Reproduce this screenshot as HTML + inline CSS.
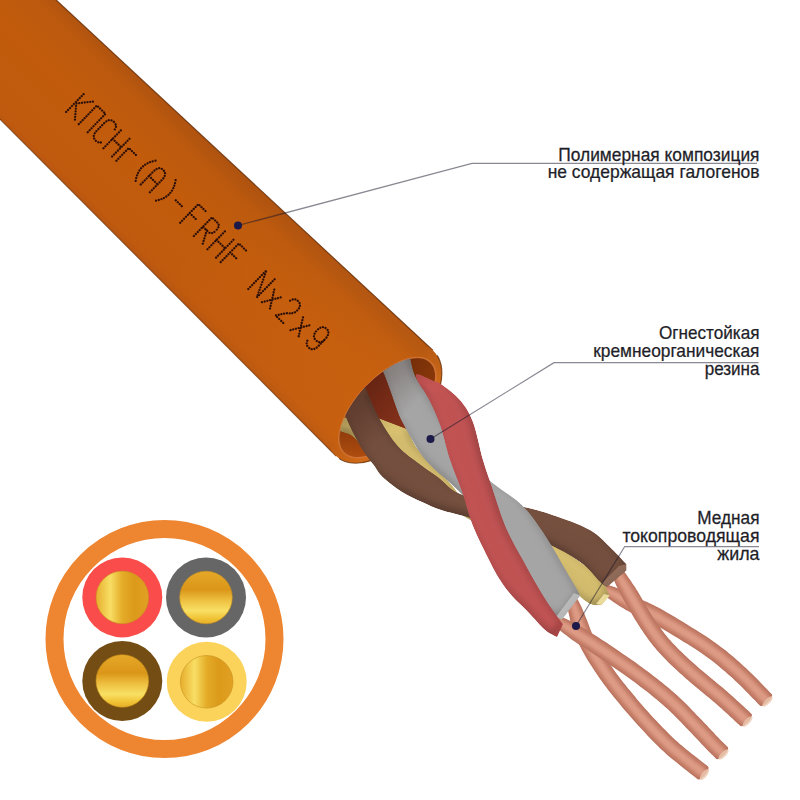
<!DOCTYPE html>
<html><head><meta charset="utf-8"><style>
html,body{margin:0;padding:0;background:#fff;width:800px;height:800px;overflow:hidden}
svg{display:block}
</style></head><body>
<svg width="800" height="800" viewBox="0 0 800 800">
<defs>
<linearGradient id="body" gradientUnits="userSpaceOnUse" x1="120" y1="238.75" x2="213" y2="143.9">
  <stop offset="0" stop-color="#b85610"/>
  <stop offset="0.06" stop-color="#c05a0e"/>
  <stop offset="0.55" stop-color="#c25c0c"/>
  <stop offset="0.85" stop-color="#bb590e"/>
  <stop offset="1" stop-color="#ad5210"/>
</linearGradient>
<linearGradient id="bodyEnd" gradientUnits="userSpaceOnUse" x1="220" y1="210" x2="390" y2="370">
  <stop offset="0" stop-color="#e07418" stop-opacity="0"/>
  <stop offset="1" stop-color="#e07418" stop-opacity="0.2"/>
</linearGradient>
<linearGradient id="rim" gradientUnits="userSpaceOnUse" x1="354.8" y1="375" x2="420" y2="437">
  <stop offset="0" stop-color="#c8620f"/>
  <stop offset="0.45" stop-color="#cc6614"/>
  <stop offset="1" stop-color="#dc782c"/>
</linearGradient>
<linearGradient id="rimHi" gradientUnits="userSpaceOnUse" x1="354.8" y1="375" x2="420" y2="437">
  <stop offset="0.35" stop-color="#e8842e" stop-opacity="0"/>
  <stop offset="1" stop-color="#e8842e" stop-opacity="0.55"/>
</linearGradient>
<linearGradient id="holeSh" gradientUnits="userSpaceOnUse" x1="365" y1="387" x2="400" y2="420">
  <stop offset="0" stop-color="#200800" stop-opacity="0.28"/>
  <stop offset="1" stop-color="#200800" stop-opacity="0"/>
</linearGradient>
<clipPath id="front">
  <path d="M731.4,45.1 L43.4,770.1 L768,1458 L1456,733Z"/>
</clipPath>
<clipPath id="wclip">
  <ellipse cx="387.4" cy="407.6" rx="62.6" ry="30.2" transform="rotate(133.5 387.4 407.6)"/>
  <path d="M731.4,45.1 L43.4,770.1 L768,1458 L1456,733Z"/>
</clipPath>
<linearGradient id="cav" gradientUnits="userSpaceOnUse" x1="430" y1="360" x2="345" y2="452">
  <stop offset="0" stop-color="#8e3a0a"/>
  <stop offset="0.4" stop-color="#7e3008"/>
  <stop offset="0.72" stop-color="#983c0c"/>
  <stop offset="1" stop-color="#b85210"/>
</linearGradient>
<filter id="tube" x="-10%" y="-10%" width="120%" height="120%">
  <feGaussianBlur in="SourceAlpha" stdDeviation="4" result="b"/>
  <feComposite in="SourceAlpha" in2="b" operator="arithmetic" k2="1" k3="-1" result="edge"/>
  <feFlood flood-color="#000" flood-opacity="0.42"/>
  <feComposite in2="edge" operator="in" result="sh"/>
  <feMerge><feMergeNode in="SourceGraphic"/><feMergeNode in="sh"/></feMerge>
</filter>
<filter id="tube3d" x="-10%" y="-10%" width="120%" height="120%" color-interpolation-filters="sRGB">
  <feGaussianBlur in="SourceAlpha" stdDeviation="5" result="blur"/>
  <feDiffuseLighting in="blur" surfaceScale="2.5" diffuseConstant="1.08" lighting-color="#ffffff" result="light">
    <feDistantLight azimuth="235" elevation="65"/>
  </feDiffuseLighting>
  <feComposite in="SourceGraphic" in2="light" operator="arithmetic" k1="1" k2="0" k3="0" k4="0" result="lit"/>
  <feComposite in="lit" in2="SourceAlpha" operator="in"/>
</filter>
<filter id="soft" x="-20%" y="-20%" width="140%" height="140%"><feGaussianBlur stdDeviation="1.6"/></filter>
<filter id="tubeS" x="-10%" y="-10%" width="120%" height="120%">
  <feGaussianBlur in="SourceAlpha" stdDeviation="2.2" result="b"/>
  <feComposite in="SourceAlpha" in2="b" operator="arithmetic" k2="1" k3="-1" result="edge"/>
  <feFlood flood-color="#6a3020" flood-opacity="0.5"/>
  <feComposite in2="edge" operator="in" result="sh"/>
  <feMerge><feMergeNode in="SourceGraphic"/><feMergeNode in="sh"/></feMerge>
</filter>

<linearGradient id="goldH" x1="0" y1="0" x2="1" y2="0">
  <stop offset="0" stop-color="#e6ae2c"/>
  <stop offset="0.27" stop-color="#f8de64"/>
  <stop offset="0.5" stop-color="#e4ac28"/>
  <stop offset="0.72" stop-color="#dc9a1a"/>
  <stop offset="1" stop-color="#e2a024"/>
</linearGradient>
<linearGradient id="goldV" x1="0" y1="0" x2="0" y2="1">
  <stop offset="0" stop-color="#e6a828"/>
  <stop offset="0.35" stop-color="#da9618"/>
  <stop offset="0.55" stop-color="#eebf40"/>
  <stop offset="0.75" stop-color="#f8e064"/>
  <stop offset="0.9" stop-color="#f0c234"/>
  <stop offset="1" stop-color="#e6ae2a"/>
</linearGradient>
</defs>
<rect width="800" height="800" fill="#ffffff"/>
<path d="M-200.0,-238.2 L433.0,350.5 L384.5,403.3 L336.0,456.0 L-200.0,-81.2Z" fill="url(#body)"/>
<path d="M-200.0,-238.2 L433.0,350.5 L384.5,403.3 L336.0,456.0 L-200.0,-81.2Z" fill="url(#bodyEnd)"/>
<path d="M-200,-238.2 L433,350.5" stroke="#6a3008" stroke-width="1.2" opacity="0.85"/>
<path d="M-200,-81.2 L336,456" stroke="#6a3008" stroke-width="1.1" opacity="0.7"/>
<path d="M432.87,350.51 A71.6,41.1 132.5 1 0 336.13,456.09 A71.6,41.1 132.5 1 0 432.87,350.51Z" fill="url(#body)"/>
<path d="M432.87,350.51 A71.6,41.1 132.5 1 0 336.13,456.09 A71.6,41.1 132.5 1 0 432.87,350.51Z" fill="url(#bodyEnd)"/>
<path d="M432.87,350.51 A71.6,41.1 132.5 1 0 336.13,456.09 A71.6,41.1 132.5 1 0 432.87,350.51Z" fill="url(#rimHi)"/>
<path d="M432.87,350.51 A71.6,41.1 132.5 1 0 336.13,456.09 A71.6,41.1 132.5 1 0 432.87,350.51Z" fill="none" stroke="#6a3008" stroke-width="1.2" opacity="0.8" clip-path="url(#front)"/>
<path d="M430.49,362.19 A62.6,30.2 133.5 1 0 344.31,453.01 A62.6,30.2 133.5 1 0 430.49,362.19Z" fill="url(#cav)" stroke="#d27434" stroke-width="1.6"/>
<path d="M356,384 L372,372 L396,362 L412,434 L379,419 L366,404Z" fill="#82301a" clip-path="url(#wclip)"/>
<path d="M66.2,111.9 L84.4,93.3 M93.0,101.6 L76.2,103.4 L74.9,120.3 M78.8,124.1 L96.9,105.5 L105.5,113.8 L87.4,132.5 M 114.8,129.4 Q 117.6,125.6 113.8,121.8 Q 109.5,117.7 104.0,123.3 L 96.8,130.7 Q 91.3,136.3 95.6,140.5 Q 99.5,144.2 103.2,141.3 M103.5,148.2 L121.7,129.5 M112.1,156.5 L130.3,137.9 M112.6,138.8 L121.2,147.2 M116.4,160.7 L128.8,148.0 L136.1,155.1 M 155.5,160.7 Q 138.3,163.8 135.6,181.2 M 140.8,184.4 L 153.5,171.4 Q 158.9,165.8 163.2,169.9 Q 167.5,174.1 162.1,179.7 L 149.4,192.8 M 149.0,176.0 L 157.6,184.4 M 175.6,180.2 Q 173.0,197.5 155.7,200.7 M175.8,200.3 L182.7,207.0 M180.2,222.7 L198.4,204.1 L207.0,212.5 M189.7,213.1 L196.5,219.7 M 193.9,236.0 L 212.0,217.4 L 217.6,222.8 Q 220.6,225.7 216.1,230.4 Q 211.5,235.0 208.5,232.1 L 202.9,226.7 M 206.8,230.4 L 202.5,244.4 M207.5,249.2 L225.6,230.6 M216.1,257.6 L234.2,239.0 M216.5,239.9 L225.1,248.3 M220.7,262.1 L238.9,243.5 L247.5,251.9 M230.2,252.4 L237.1,259.1 M248.3,289.0 L266.5,270.3 L256.9,297.3 L275.1,278.7 M262.0,302.2 L282.0,297.1 M274.3,289.6 L269.7,309.8 M 290.1,300.6 Q 294.6,297.7 298.0,301.0 Q 302.3,305.2 297.2,310.4 Q 293.3,314.5 286.2,313.1 L 275.6,315.5 L 284.2,323.8 M290.6,330.1 L310.7,325.0 M303.0,317.4 L298.4,337.6 M 324.1,340.2 Q 320.1,344.3 315.8,340.1 Q 311.5,335.9 317.0,330.3 Q 322.4,324.7 326.7,328.9 Q 331.0,333.1 324.6,339.6 L 318.3,346.1 Q 312.9,351.7 308.6,347.5 Q 305.1,344.2 307.9,339.6" fill="none" stroke="#2e0f08" stroke-width="2.3" stroke-linecap="round" stroke-dasharray="0.01 2.75"/>
<path d="M598.4,592.2 L598.9,592.5 L599.4,592.8 L600.0,593.1 L600.5,593.4 L601.1,593.7 L601.8,594.0 L602.5,594.5 L603.2,594.9 L604.1,595.5 L605.0,596.1 L606.1,596.8 L607.2,597.6 L608.5,598.5 L610.0,599.6 L611.7,600.7 L613.4,602.0 L615.3,603.3 L617.3,604.6 L619.4,605.9 L621.5,607.3 L623.7,608.6 L625.9,609.9 L628.0,611.1 L630.2,612.3 L632.3,613.4 L634.4,614.4 L636.4,615.3 L638.3,616.2 L640.2,617.1 L642.1,618.0 L644.0,618.9 L646.0,619.9 L648.2,621.0 L650.5,622.2 L653.1,623.6 L655.9,625.2 L659.1,627.0 L662.6,629.1 L666.4,631.3 L670.5,633.7 L674.6,636.2 L678.9,638.8 L683.1,641.4 L687.4,644.0 L691.4,646.6 L695.3,649.1 L699.0,651.5 L702.3,653.8 L705.4,655.9 L708.2,658.0 L711.0,660.0 L713.6,662.0 L716.1,664.0 L718.5,665.9 L720.8,667.9 L723.1,669.9 L725.4,671.8 L727.7,673.9 L730.1,676.0 L732.5,678.1 L734.9,680.4 L737.4,682.8 L740.1,685.3 L742.8,688.0 L745.4,690.7 L748.0,693.3 L750.5,695.9 L752.9,698.4 L755.1,700.6 L757.1,702.7 L758.8,704.4 L760.1,705.8 L761.3,706.1 L763.3,705.5 L765.6,704.1 L768.0,702.1 L770.1,699.7 L771.6,697.4 L772.2,695.4 L771.9,694.2 L770.6,692.9 L768.9,691.2 L767.0,689.2 L764.8,686.9 L762.4,684.4 L759.8,681.8 L757.2,679.1 L754.4,676.3 L751.6,673.6 L748.9,670.9 L746.2,668.3 L743.5,665.9 L741.1,663.7 L738.7,661.5 L736.3,659.4 L733.9,657.3 L731.4,655.3 L728.9,653.2 L726.4,651.1 L723.7,649.0 L720.9,646.9 L718.0,644.7 L714.9,642.5 L711.7,640.2 L708.2,637.8 L704.4,635.3 L700.3,632.7 L696.1,630.0 L691.8,627.4 L687.5,624.7 L683.2,622.1 L678.9,619.5 L674.9,617.1 L671.0,614.8 L667.4,612.7 L664.1,610.8 L661.1,609.1 L658.3,607.6 L655.7,606.3 L653.4,605.1 L651.1,604.0 L649.1,603.0 L647.1,602.1 L645.2,601.2 L643.4,600.4 L641.5,599.5 L639.7,598.6 L637.8,597.7 L635.7,596.6 L633.6,595.6 L631.4,594.5 L629.2,593.4 L626.9,592.3 L624.7,591.3 L622.5,590.3 L620.3,589.4 L618.3,588.5 L616.3,587.7 L614.5,587.0 L612.8,586.4 L611.2,585.9 L609.8,585.4 L608.5,585.1 L607.3,584.8 L606.2,584.5 L605.2,584.3 L604.4,584.2 L603.6,584.0 L602.9,584.0 L602.4,583.9 L602.0,583.8 L601.6,583.8Z" fill="#c8806a" filter="url(#tubeS)"/><path d="M599.3,589.9 L599.8,590.1 L600.3,590.3 L600.8,590.5 L601.4,590.8 L602.0,591.0 L602.7,591.4 L603.5,591.7 L604.3,592.1 L605.3,592.6 L606.3,593.1 L607.5,593.8 L608.7,594.5 L610.2,595.3 L611.8,596.3 L613.5,597.4 L615.3,598.5 L617.3,599.7 L619.3,600.9 L621.5,602.2 L623.6,603.5 L625.8,604.7 L628.0,606.0 L630.2,607.1 L632.3,608.3 L634.4,609.4 L636.4,610.3 L638.3,611.2 L640.2,612.1 L642.1,613.0 L644.0,613.9 L646.0,614.8 L648.1,615.8 L650.3,616.9 L652.7,618.2 L655.3,619.6 L658.2,621.2 L661.4,623.1 L664.9,625.2 L668.8,627.4 L672.8,629.8 L677.0,632.3 L681.3,634.9 L685.5,637.5 L689.8,640.2 L693.9,642.8 L697.8,645.3 L701.5,647.8 L704.9,650.1 L708.0,652.2 L710.9,654.4 L713.7,656.4 L716.4,658.4 L718.9,660.4 L721.3,662.4 L723.7,664.4 L726.1,666.4 L728.4,668.4 L730.7,670.5 L733.1,672.6 L735.5,674.8 L738.0,677.0 L740.6,679.5 L743.3,682.1 L746.0,684.8 L748.7,687.5 L751.3,690.2 L753.8,692.8 L756.2,695.2 L758.4,697.5 L760.3,699.5 L762.0,701.2 L763.4,702.6 L763.9,702.8 L764.8,702.5 L765.8,701.9 L766.9,700.9 L767.9,699.9 L768.5,698.8 L768.8,697.9 L768.6,697.4 L767.3,696.0 L765.7,694.3 L763.7,692.3 L761.5,690.1 L759.1,687.6 L756.6,685.0 L753.9,682.3 L751.2,679.5 L748.5,676.8 L745.7,674.1 L743.1,671.6 L740.5,669.2 L738.0,667.1 L735.7,664.9 L733.3,662.8 L730.9,660.8 L728.5,658.7 L726.0,656.7 L723.5,654.6 L720.9,652.6 L718.2,650.5 L715.3,648.4 L712.3,646.2 L709.1,643.9 L705.6,641.6 L701.9,639.1 L697.9,636.5 L693.7,633.9 L689.4,631.2 L685.1,628.6 L680.8,626.0 L676.6,623.4 L672.5,621.0 L668.7,618.8 L665.1,616.7 L661.8,614.8 L658.9,613.1 L656.2,611.6 L653.7,610.3 L651.3,609.2 L649.2,608.1 L647.1,607.1 L645.2,606.2 L643.3,605.4 L641.4,604.5 L639.6,603.6 L637.7,602.7 L635.7,601.7 L633.6,600.6 L631.5,599.5 L629.3,598.4 L627.1,597.2 L624.8,596.1 L622.7,595.0 L620.5,593.9 L618.4,592.8 L616.5,591.9 L614.6,591.0 L612.8,590.2 L611.3,589.5 L609.8,588.9 L608.5,588.4 L607.3,588.0 L606.2,587.6 L605.2,587.3 L604.3,587.0 L603.5,586.8 L602.8,586.6 L602.1,586.5 L601.6,586.4 L601.1,586.2 L600.7,586.1Z" fill="#e4a48e" opacity="0.75" filter="url(#soft)"/><ellipse cx="767.5" cy="701.5" rx="2.6" ry="6.8" transform="rotate(45.0 767.5 701.5)" fill="#ecc8b0" opacity="0.8"/>
<path d="M608.3,567.6 L608.5,568.0 L608.8,568.5 L609.0,568.9 L609.3,569.4 L609.5,569.9 L609.8,570.4 L610.1,571.1 L610.4,571.8 L610.8,572.7 L611.2,573.7 L611.7,574.8 L612.3,576.2 L612.9,577.7 L613.7,579.5 L614.5,581.4 L615.4,583.5 L616.4,585.7 L617.5,588.0 L618.6,590.4 L619.8,592.8 L621.0,595.2 L622.3,597.6 L623.6,599.9 L624.9,602.2 L626.2,604.4 L627.6,606.7 L629.0,609.1 L630.4,611.5 L631.8,613.9 L633.3,616.4 L634.7,618.9 L636.2,621.3 L637.7,623.7 L639.2,626.1 L640.7,628.4 L642.2,630.6 L643.6,632.7 L645.0,634.7 L646.3,636.6 L647.7,638.5 L649.1,640.4 L650.4,642.3 L651.9,644.1 L653.3,645.9 L654.9,647.8 L656.5,649.7 L658.1,651.6 L659.9,653.6 L661.8,655.6 L663.7,657.6 L665.7,659.6 L667.7,661.7 L669.8,663.7 L671.9,665.7 L674.1,667.8 L676.3,669.8 L678.6,671.9 L680.9,674.0 L683.2,676.1 L685.5,678.2 L688.0,680.3 L690.5,682.5 L693.2,684.8 L695.9,687.0 L698.6,689.3 L701.3,691.5 L704.0,693.7 L706.7,695.9 L709.3,698.1 L711.9,700.2 L714.3,702.2 L716.6,704.2 L718.8,706.2 L721.2,708.3 L723.5,710.4 L725.8,712.5 L728.1,714.6 L730.3,716.7 L732.4,718.6 L734.4,720.5 L736.2,722.2 L737.8,723.7 L739.3,725.0 L740.4,726.1 L741.6,726.3 L743.5,725.7 L745.8,724.1 L748.1,722.0 L750.1,719.5 L751.5,717.1 L752.0,715.1 L751.6,713.9 L750.5,712.9 L749.1,711.6 L747.5,710.1 L745.7,708.4 L743.7,706.6 L741.5,704.6 L739.3,702.5 L737.0,700.4 L734.6,698.2 L732.2,696.0 L729.8,693.9 L727.4,691.8 L725.0,689.7 L722.5,687.6 L719.9,685.4 L717.2,683.2 L714.5,681.0 L711.8,678.7 L709.1,676.5 L706.4,674.3 L703.8,672.1 L701.3,670.0 L698.8,667.9 L696.5,665.8 L694.2,663.8 L691.9,661.7 L689.7,659.7 L687.5,657.7 L685.4,655.7 L683.3,653.8 L681.3,651.8 L679.3,649.9 L677.4,648.0 L675.6,646.1 L673.8,644.3 L672.1,642.4 L670.5,640.6 L669.0,638.9 L667.5,637.2 L666.2,635.5 L664.8,633.9 L663.6,632.2 L662.3,630.6 L661.1,628.9 L659.8,627.1 L658.5,625.3 L657.2,623.4 L655.8,621.4 L654.5,619.3 L653.1,617.2 L651.7,615.0 L650.3,612.7 L648.9,610.4 L647.4,608.0 L646.0,605.6 L644.6,603.2 L643.2,600.8 L641.8,598.4 L640.4,596.1 L639.1,593.8 L637.8,591.6 L636.4,589.4 L635.0,587.1 L633.5,584.9 L632.0,582.7 L630.6,580.5 L629.1,578.4 L627.7,576.4 L626.4,574.6 L625.1,572.8 L623.8,571.2 L622.7,569.8 L621.7,568.6 L620.8,567.5 L619.9,566.6 L619.2,565.8 L618.5,565.1 L617.9,564.4 L617.4,563.9 L616.9,563.5 L616.5,563.1 L616.2,562.8 L615.9,562.6 L615.7,562.4Z" fill="#c8806a" filter="url(#tubeS)"/><path d="M610.4,566.2 L610.6,566.5 L610.8,566.9 L611.1,567.3 L611.4,567.8 L611.7,568.2 L612.0,568.8 L612.4,569.4 L612.8,570.1 L613.3,571.0 L613.9,572.0 L614.5,573.1 L615.2,574.4 L615.9,575.9 L616.8,577.6 L617.8,579.5 L618.8,581.6 L619.9,583.7 L621.1,585.9 L622.3,588.2 L623.6,590.6 L624.9,593.0 L626.2,595.3 L627.5,597.6 L628.8,599.9 L630.1,602.1 L631.5,604.4 L632.9,606.8 L634.3,609.2 L635.7,611.6 L637.2,614.1 L638.6,616.5 L640.1,618.9 L641.5,621.3 L643.0,623.6 L644.5,625.9 L645.9,628.1 L647.3,630.1 L648.7,632.1 L650.0,634.0 L651.4,635.9 L652.7,637.7 L654.0,639.5 L655.4,641.3 L656.9,643.1 L658.3,644.9 L659.9,646.7 L661.5,648.6 L663.3,650.5 L665.1,652.5 L667.0,654.4 L668.9,656.4 L670.9,658.4 L673.0,660.4 L675.1,662.4 L677.2,664.5 L679.4,666.5 L681.6,668.6 L683.9,670.6 L686.2,672.7 L688.5,674.8 L691.0,676.9 L693.5,679.1 L696.1,681.3 L698.8,683.5 L701.5,685.8 L704.2,688.0 L706.9,690.2 L709.6,692.4 L712.2,694.6 L714.8,696.7 L717.2,698.8 L719.6,700.8 L721.9,702.8 L724.2,704.9 L726.6,707.0 L728.9,709.2 L731.2,711.3 L733.4,713.3 L735.5,715.3 L737.5,717.2 L739.3,718.9 L740.9,720.4 L742.3,721.7 L743.5,722.7 L744.0,722.9 L744.9,722.6 L745.9,721.9 L747.0,720.9 L747.8,719.8 L748.5,718.7 L748.7,717.8 L748.5,717.3 L747.4,716.2 L746.0,714.9 L744.4,713.4 L742.6,711.7 L740.6,709.9 L738.5,707.9 L736.2,705.8 L733.9,703.7 L731.6,701.5 L729.2,699.4 L726.8,697.3 L724.4,695.2 L722.1,693.1 L719.6,691.0 L717.0,688.9 L714.3,686.7 L711.6,684.5 L708.9,682.3 L706.2,680.0 L703.5,677.8 L700.9,675.6 L698.3,673.4 L695.8,671.3 L693.5,669.2 L691.2,667.2 L688.9,665.1 L686.6,663.1 L684.4,661.1 L682.3,659.0 L680.2,657.1 L678.1,655.1 L676.1,653.1 L674.2,651.2 L672.3,649.3 L670.5,647.4 L668.7,645.5 L667.1,643.7 L665.5,641.9 L664.0,640.1 L662.6,638.4 L661.3,636.7 L660.0,635.0 L658.7,633.3 L657.4,631.5 L656.1,629.7 L654.8,627.9 L653.5,625.9 L652.1,623.9 L650.7,621.8 L649.3,619.6 L647.8,617.4 L646.4,615.1 L645.0,612.7 L643.5,610.3 L642.1,607.9 L640.7,605.5 L639.3,603.1 L637.9,600.7 L636.5,598.4 L635.2,596.1 L633.9,593.9 L632.5,591.6 L631.1,589.3 L629.7,587.0 L628.3,584.8 L627.0,582.6 L625.6,580.4 L624.3,578.4 L623.1,576.4 L621.9,574.7 L620.8,573.0 L619.8,571.6 L618.9,570.3 L618.1,569.2 L617.4,568.3 L616.8,567.4 L616.2,566.7 L615.7,566.1 L615.2,565.6 L614.8,565.1 L614.4,564.7 L614.1,564.4 L613.9,564.1 L613.6,563.8Z" fill="#e4a48e" opacity="0.75" filter="url(#soft)"/><ellipse cx="747.5" cy="721.5" rx="2.6" ry="6.8" transform="rotate(42.5 747.5 721.5)" fill="#ecc8b0" opacity="0.8"/>
<path d="M564.0,596.1 L564.2,596.7 L564.5,597.3 L564.7,597.8 L564.9,598.3 L565.1,598.7 L565.3,599.3 L565.5,600.0 L565.7,600.8 L566.0,601.8 L566.3,603.0 L566.7,604.5 L567.1,606.3 L567.6,608.3 L568.1,610.7 L568.7,613.5 L569.4,616.5 L570.1,619.7 L571.0,623.1 L572.0,626.5 L573.1,630.0 L574.3,633.5 L575.7,636.9 L577.1,640.3 L578.5,643.5 L580.1,646.6 L581.6,649.6 L583.3,652.6 L585.0,655.6 L586.7,658.5 L588.5,661.4 L590.3,664.3 L592.1,667.1 L593.9,669.8 L595.7,672.5 L597.4,675.1 L599.2,677.7 L601.0,680.2 L602.8,682.7 L604.6,685.2 L606.4,687.6 L608.2,689.9 L610.0,692.2 L611.8,694.4 L613.6,696.7 L615.3,698.8 L617.1,701.0 L618.9,703.1 L620.6,705.3 L622.4,707.4 L624.1,709.5 L625.9,711.5 L627.6,713.6 L629.4,715.6 L631.1,717.6 L632.9,719.6 L634.6,721.6 L636.4,723.6 L638.2,725.6 L640.1,727.6 L642.0,729.6 L643.9,731.6 L645.7,733.6 L647.6,735.7 L649.6,737.7 L651.5,739.7 L653.5,741.7 L655.5,743.8 L657.6,745.8 L659.7,747.9 L661.9,750.0 L664.2,752.1 L666.5,754.2 L669.1,756.4 L671.8,758.7 L674.8,761.1 L677.8,763.6 L680.8,766.1 L683.9,768.5 L686.8,770.8 L689.6,773.0 L692.2,775.0 L694.5,776.8 L696.4,778.3 L697.9,779.5 L699.1,779.6 L701.0,778.8 L703.1,777.1 L705.3,774.8 L707.1,772.2 L708.2,769.7 L708.6,767.7 L708.1,766.5 L706.6,765.3 L704.6,763.8 L702.3,762.0 L699.8,760.0 L697.0,757.8 L694.1,755.5 L691.1,753.2 L688.1,750.8 L685.2,748.4 L682.4,746.1 L679.8,743.9 L677.5,741.8 L675.3,739.9 L673.2,737.9 L671.1,736.0 L669.1,734.0 L667.2,732.1 L665.3,730.1 L663.4,728.2 L661.5,726.3 L659.6,724.3 L657.7,722.3 L655.9,720.3 L654.0,718.4 L652.2,716.4 L650.4,714.5 L648.7,712.5 L646.9,710.6 L645.2,708.7 L643.5,706.8 L641.8,704.8 L640.2,702.9 L638.5,700.9 L636.8,698.9 L635.1,696.8 L633.4,694.7 L631.6,692.6 L629.9,690.5 L628.1,688.4 L626.4,686.2 L624.6,684.1 L622.9,681.9 L621.2,679.8 L619.5,677.6 L617.8,675.3 L616.1,673.0 L614.5,670.7 L612.8,668.3 L611.1,665.8 L609.4,663.3 L607.6,660.7 L605.9,658.1 L604.2,655.4 L602.5,652.7 L600.9,650.0 L599.2,647.3 L597.7,644.6 L596.2,641.8 L594.8,639.1 L593.5,636.5 L592.2,633.7 L591.0,630.8 L589.8,627.7 L588.6,624.5 L587.4,621.3 L586.1,618.1 L584.9,614.9 L583.6,611.9 L582.4,609.0 L581.2,606.3 L580.0,603.9 L578.9,601.7 L577.9,599.9 L577.0,598.4 L576.1,597.1 L575.4,596.0 L574.7,595.0 L574.1,594.2 L573.5,593.5 L573.1,593.0 L572.7,592.6 L572.4,592.3 L572.2,592.1 L572.0,591.9Z" fill="#c8806a" filter="url(#tubeS)"/><path d="M566.2,594.9 L566.4,595.4 L566.7,595.9 L566.9,596.3 L567.2,596.8 L567.4,597.3 L567.7,597.9 L568.0,598.6 L568.4,599.4 L568.8,600.5 L569.3,601.8 L569.8,603.3 L570.4,605.0 L571.0,607.1 L571.7,609.5 L572.5,612.3 L573.3,615.2 L574.2,618.4 L575.2,621.7 L576.2,625.1 L577.4,628.5 L578.6,631.9 L579.9,635.3 L581.2,638.5 L582.6,641.6 L584.1,644.6 L585.6,647.5 L587.2,650.4 L588.9,653.3 L590.6,656.2 L592.3,659.0 L594.1,661.8 L595.9,664.6 L597.7,667.3 L599.4,670.0 L601.2,672.6 L602.9,675.1 L604.7,677.6 L606.4,680.1 L608.2,682.5 L610.0,684.8 L611.8,687.1 L613.5,689.4 L615.3,691.6 L617.1,693.8 L618.9,696.0 L620.6,698.1 L622.4,700.2 L624.1,702.4 L625.9,704.5 L627.6,706.6 L629.3,708.6 L631.1,710.6 L632.8,712.6 L634.5,714.6 L636.3,716.6 L638.0,718.6 L639.8,720.6 L641.6,722.5 L643.4,724.5 L645.3,726.5 L647.2,728.5 L649.0,730.5 L650.9,732.5 L652.8,734.5 L654.8,736.5 L656.7,738.5 L658.7,740.6 L660.8,742.6 L662.9,744.6 L665.0,746.7 L667.2,748.7 L669.5,750.8 L672.0,752.9 L674.7,755.2 L677.6,757.6 L680.6,760.1 L683.7,762.5 L686.7,764.9 L689.6,767.2 L692.4,769.4 L695.0,771.4 L697.3,773.2 L699.2,774.7 L700.7,775.9 L701.3,776.0 L702.1,775.6 L703.1,774.9 L704.0,773.8 L704.8,772.6 L705.4,771.5 L705.5,770.6 L705.3,770.1 L703.8,768.9 L701.8,767.3 L699.6,765.6 L697.0,763.6 L694.2,761.4 L691.3,759.1 L688.3,756.7 L685.3,754.3 L682.3,751.9 L679.5,749.5 L676.9,747.3 L674.5,745.2 L672.2,743.2 L670.1,741.2 L668.0,739.2 L666.0,737.3 L664.0,735.3 L662.0,733.3 L660.1,731.4 L658.2,729.4 L656.3,727.4 L654.4,725.4 L652.6,723.5 L650.7,721.5 L648.9,719.5 L647.1,717.5 L645.3,715.6 L643.5,713.6 L641.8,711.7 L640.1,709.7 L638.4,707.8 L636.7,705.8 L635.0,703.8 L633.3,701.8 L631.6,699.7 L629.9,697.6 L628.1,695.5 L626.4,693.4 L624.6,691.2 L622.8,689.1 L621.1,686.9 L619.3,684.8 L617.6,682.5 L615.9,680.3 L614.2,678.0 L612.4,675.7 L610.7,673.3 L609.1,670.9 L607.3,668.4 L605.6,665.8 L603.9,663.2 L602.1,660.5 L600.4,657.8 L598.7,655.1 L597.0,652.3 L595.3,649.6 L593.7,646.8 L592.2,644.0 L590.7,641.2 L589.4,638.4 L588.1,635.5 L586.8,632.5 L585.5,629.3 L584.3,626.0 L583.1,622.7 L582.0,619.4 L580.8,616.2 L579.7,613.1 L578.6,610.2 L577.6,607.5 L576.6,605.1 L575.6,603.0 L574.8,601.2 L574.0,599.7 L573.3,598.4 L572.7,597.3 L572.2,596.4 L571.7,595.6 L571.2,595.0 L570.8,594.5 L570.5,594.0 L570.2,593.7 L570.0,593.4 L569.8,593.1Z" fill="#e4a48e" opacity="0.75" filter="url(#soft)"/><ellipse cx="704.5" cy="774.5" rx="2.6" ry="6.8" transform="rotate(38.9 704.5 774.5)" fill="#ecc8b0" opacity="0.8"/>
<path d="M549.7,621.9 L550.1,622.2 L550.5,622.5 L550.8,622.8 L551.2,623.1 L551.6,623.4 L552.1,623.8 L552.6,624.3 L553.4,625.0 L554.3,625.8 L555.5,626.8 L556.9,628.0 L558.6,629.4 L560.7,631.1 L563.1,633.0 L565.8,635.1 L568.7,637.3 L571.9,639.7 L575.3,642.0 L578.9,644.4 L582.5,646.8 L586.1,649.1 L589.7,651.4 L593.1,653.7 L596.4,655.9 L599.7,658.0 L603.0,660.3 L606.3,662.5 L609.7,664.8 L613.0,667.0 L616.3,669.3 L619.6,671.6 L622.9,673.8 L626.0,676.1 L629.1,678.3 L632.2,680.5 L635.1,682.6 L637.9,684.8 L640.7,686.9 L643.5,689.0 L646.1,691.0 L648.8,693.1 L651.3,695.2 L653.8,697.2 L656.3,699.2 L658.7,701.2 L661.0,703.2 L663.3,705.2 L665.5,707.2 L667.6,709.1 L669.7,711.0 L671.7,712.9 L673.6,714.8 L675.5,716.7 L677.3,718.6 L679.2,720.5 L681.0,722.3 L682.8,724.2 L684.5,726.1 L686.3,727.9 L688.1,729.7 L689.8,731.5 L691.6,733.3 L693.3,735.2 L695.0,737.0 L696.7,738.8 L698.4,740.5 L700.0,742.2 L701.5,743.9 L703.0,745.5 L704.5,747.0 L705.8,748.4 L707.1,749.7 L708.2,750.9 L709.3,752.0 L710.3,753.0 L711.2,754.0 L712.1,754.8 L712.9,755.6 L713.6,756.3 L714.3,757.0 L714.9,757.5 L715.4,758.0 L715.8,758.5 L716.2,758.9 L717.4,759.2 L719.3,758.6 L721.7,757.1 L724.0,755.0 L726.1,752.6 L727.6,750.3 L728.2,748.4 L727.8,747.1 L727.4,746.7 L726.9,746.3 L726.4,745.7 L725.8,745.2 L725.2,744.6 L724.5,743.9 L723.7,743.1 L722.9,742.3 L722.0,741.4 L721.1,740.5 L720.0,739.4 L718.9,738.3 L717.7,737.0 L716.4,735.7 L715.0,734.2 L713.6,732.6 L712.0,730.9 L710.4,729.2 L708.7,727.4 L707.0,725.6 L705.2,723.8 L703.5,721.9 L701.7,720.1 L699.9,718.3 L698.2,716.5 L696.4,714.7 L694.7,712.8 L692.9,710.9 L691.0,709.0 L689.2,707.1 L687.2,705.1 L685.2,703.1 L683.1,701.0 L681.0,699.0 L678.8,696.9 L676.5,694.8 L674.1,692.8 L671.8,690.7 L669.3,688.6 L666.8,686.5 L664.3,684.4 L661.7,682.3 L659.0,680.2 L656.3,678.1 L653.5,675.9 L650.7,673.7 L647.8,671.6 L644.9,669.4 L641.9,667.2 L638.8,664.9 L635.6,662.6 L632.3,660.3 L629.0,658.0 L625.7,655.7 L622.3,653.4 L618.9,651.1 L615.5,648.8 L612.2,646.6 L608.9,644.3 L605.6,642.1 L602.2,639.9 L598.7,637.6 L595.1,635.2 L591.4,632.9 L587.7,630.5 L584.0,628.3 L580.4,626.3 L577.0,624.4 L573.7,622.6 L570.6,621.1 L567.8,619.7 L565.4,618.6 L563.3,617.7 L561.6,616.9 L560.1,616.3 L558.9,615.8 L557.9,615.4 L557.1,615.1 L556.4,614.8 L555.8,614.6 L555.4,614.5 L555.0,614.4 L554.7,614.3 L554.3,614.1Z" fill="#c8806a" filter="url(#tubeS)"/><path d="M551.0,619.7 L551.4,620.0 L551.7,620.2 L552.1,620.5 L552.5,620.7 L552.9,621.0 L553.4,621.4 L554.1,621.8 L554.9,622.4 L555.9,623.1 L557.2,624.0 L558.7,625.1 L560.5,626.4 L562.6,628.0 L565.1,629.7 L567.9,631.7 L571.0,633.8 L574.3,636.0 L577.7,638.3 L581.3,640.6 L584.9,642.9 L588.6,645.3 L592.1,647.6 L595.6,649.9 L598.9,652.1 L602.2,654.3 L605.5,656.5 L608.9,658.7 L612.2,661.0 L615.6,663.3 L618.9,665.6 L622.2,667.8 L625.5,670.1 L628.7,672.4 L631.8,674.6 L634.8,676.8 L637.8,679.0 L640.7,681.1 L643.5,683.3 L646.2,685.4 L648.9,687.5 L651.6,689.6 L654.2,691.6 L656.7,693.7 L659.2,695.7 L661.6,697.8 L664.0,699.8 L666.3,701.8 L668.5,703.8 L670.7,705.7 L672.8,707.7 L674.8,709.6 L676.8,711.6 L678.7,713.5 L680.6,715.4 L682.4,717.3 L684.2,719.2 L686.0,721.1 L687.8,722.9 L689.6,724.8 L691.3,726.6 L693.1,728.4 L694.8,730.2 L696.6,732.0 L698.3,733.8 L700.0,735.7 L701.7,737.4 L703.3,739.1 L704.9,740.8 L706.3,742.4 L707.8,743.9 L709.1,745.3 L710.3,746.6 L711.5,747.8 L712.5,748.8 L713.5,749.8 L714.4,750.8 L715.3,751.6 L716.1,752.4 L716.8,753.1 L717.4,753.7 L718.0,754.3 L718.5,754.8 L719.0,755.2 L719.4,755.6 L719.9,755.8 L720.8,755.5 L721.9,754.9 L722.9,753.9 L723.9,752.8 L724.5,751.8 L724.8,750.9 L724.6,750.4 L724.2,750.0 L723.7,749.5 L723.2,749.0 L722.6,748.4 L722.0,747.8 L721.3,747.1 L720.5,746.4 L719.7,745.5 L718.8,744.6 L717.8,743.6 L716.8,742.6 L715.7,741.4 L714.5,740.2 L713.2,738.8 L711.7,737.3 L710.3,735.7 L708.7,734.1 L707.1,732.3 L705.4,730.6 L703.7,728.7 L702.0,726.9 L700.2,725.1 L698.4,723.2 L696.7,721.4 L694.9,719.6 L693.2,717.8 L691.4,715.9 L689.6,714.1 L687.8,712.2 L685.9,710.2 L684.0,708.3 L682.0,706.3 L680.0,704.3 L677.9,702.3 L675.7,700.3 L673.5,698.2 L671.2,696.2 L668.8,694.2 L666.4,692.1 L663.9,690.0 L661.4,688.0 L658.8,685.9 L656.2,683.8 L653.5,681.6 L650.8,679.5 L648.0,677.4 L645.1,675.2 L642.2,673.0 L639.2,670.8 L636.1,668.6 L633.0,666.3 L629.7,664.0 L626.4,661.7 L623.1,659.4 L619.7,657.1 L616.4,654.9 L613.0,652.6 L609.7,650.3 L606.3,648.1 L603.1,645.9 L599.7,643.7 L596.2,641.4 L592.6,639.0 L588.9,636.7 L585.3,634.4 L581.6,632.1 L578.1,630.0 L574.7,627.9 L571.5,626.1 L568.5,624.4 L565.8,622.9 L563.5,621.6 L561.6,620.5 L559.9,619.6 L558.5,618.9 L557.4,618.3 L556.4,617.9 L555.7,617.5 L555.1,617.2 L554.6,617.0 L554.1,616.8 L553.8,616.6 L553.4,616.5 L553.0,616.3Z" fill="#e4a48e" opacity="0.75" filter="url(#soft)"/><ellipse cx="723.5" cy="754.5" rx="2.6" ry="6.8" transform="rotate(45.0 723.5 754.5)" fill="#ecc8b0" opacity="0.8"/>
<g clip-path="url(#wclip)">
<path d="M379.5,418.5 L407.0,429.0 C409.2,432.8 412.8,443.0 420.0,452.0 C427.2,461.0 441.7,474.2 450.0,483.0 C458.3,491.8 458.3,497.2 470.0,505.0 C481.7,512.8 506.3,523.6 520.0,530.0 C533.7,536.4 542.4,538.5 552.0,543.5 C561.6,548.5 569.5,554.2 577.5,560.0 C585.5,565.8 594.6,572.1 600.0,578.0 C605.4,583.9 608.2,592.5 609.8,595.4 L601.5,605.0 C599.6,604.8 594.4,606.2 590.0,604.0 C585.6,601.8 580.0,596.8 575.0,592.0 C570.0,587.2 565.8,580.3 560.0,575.0 C554.2,569.7 555.0,569.2 540.0,560.0 C525.0,550.8 490.0,531.7 470.0,520.0 C450.0,508.3 435.0,498.3 420.0,490.0 C405.0,481.7 390.8,478.6 380.0,470.0 C369.2,461.4 361.7,445.1 355.0,438.5 C348.3,431.9 342.5,433.7 340.0,430.6 C337.5,427.5 338.8,422.2 340.0,420.0 C341.2,417.8 340.4,417.8 347.0,417.5 C353.6,417.2 374.1,418.3 379.5,418.5Z" fill="#d8c070" filter="url(#tube3d)"/>
<path d="M609.8,595.4 L601.5,605 L596,604 L604,594Z" fill="#eadb9a"/>
<path d="M343.0,407.0 L364.0,384.0 C366.6,389.8 373.9,408.2 379.5,418.5 C385.1,428.8 391.2,438.2 397.5,445.5 C403.8,452.8 410.2,456.8 417.0,462.0 C423.8,467.2 430.3,471.5 438.0,477.0 C445.7,482.5 449.3,490.2 463.0,495.0 C476.7,499.8 505.1,502.7 520.0,506.0 C534.9,509.3 540.8,511.0 552.5,515.0 C564.2,519.0 580.1,524.3 590.0,530.0 C599.9,535.7 606.0,543.3 612.0,549.0 C618.0,554.7 623.9,561.5 626.3,564.0 L626.3,570.6 L607.0,587.0 C605.8,586.2 604.5,586.2 600.0,582.0 C595.5,577.8 589.2,568.5 580.0,562.0 C570.8,555.5 558.3,548.3 545.0,543.0 C531.7,537.7 512.5,534.2 500.0,530.0 C487.5,525.8 479.8,521.3 470.0,518.0 C460.2,514.7 448.8,512.6 441.0,510.0 C433.2,507.4 429.5,505.5 423.0,502.5 C416.5,499.5 408.8,496.2 402.0,492.0 C395.2,487.8 387.2,481.4 382.5,477.0 C377.8,472.6 377.1,469.7 374.0,465.6 C370.9,461.5 367.3,457.6 364.0,452.5 C360.7,447.4 357.0,440.8 354.0,435.0 C351.0,429.2 347.8,422.2 346.0,417.5 C344.2,412.8 343.5,408.8 343.0,407.0Z" fill="#76503f" filter="url(#tube3d)"/>
<path d="M626.3,564 L626.3,570.6 L607,587 L602,583 L619,566Z" fill="#9a7462" opacity="0.8"/>
<path d="M378.0,366.0 L408.0,345.0 C409.0,349.7 411.3,365.5 414.0,373.0 C416.7,380.5 420.3,383.8 424.0,390.0 C427.7,396.2 431.7,403.0 436.0,410.0 C440.3,417.0 445.0,424.5 450.0,432.0 C455.0,439.5 459.5,447.0 466.0,455.0 C472.5,463.0 479.7,471.7 489.0,480.0 C498.3,488.3 512.7,495.8 522.0,505.0 C531.3,514.2 537.5,523.8 545.0,535.0 C552.5,546.2 561.7,563.0 567.0,572.0 C572.3,581.0 574.8,585.1 577.0,589.0 C579.2,592.9 579.7,594.3 580.2,595.4 L562.0,619.5 C559.2,618.2 552.0,616.9 545.0,612.0 C538.0,607.1 527.5,598.7 520.0,590.0 C512.5,581.3 506.7,571.7 500.0,560.0 C493.3,548.3 485.8,530.3 480.0,520.0 C474.2,509.7 470.0,504.2 465.0,498.0 C460.0,491.8 455.0,487.7 450.0,483.0 C445.0,478.3 440.0,475.0 435.0,470.0 C430.0,465.0 425.2,460.6 420.0,453.0 C414.8,445.4 407.3,431.7 403.5,424.5 C399.7,417.3 399.2,415.8 397.0,410.0 C394.8,404.2 392.3,396.3 390.0,390.0 C387.7,383.7 385.0,376.0 383.0,372.0 C381.0,368.0 378.8,367.0 378.0,366.0Z" fill="#a8a8a8" filter="url(#tube3d)"/>
<path d="M580.2,595.4 L562,619.5 L556,617 L574,593Z" fill="#c4c4c4" opacity="0.8"/>
<path d="M563.0,624.0 L557.0,637.0 C555.0,635.8 549.8,634.2 545.0,630.0 C540.2,625.8 533.5,617.7 528.0,612.0 C522.5,606.3 516.7,601.3 512.0,596.0 C507.3,590.7 503.7,585.7 500.0,580.0 C496.3,574.3 494.6,571.2 490.0,562.0 C485.4,552.8 477.2,536.7 472.5,525.0 C467.8,513.3 465.8,502.8 462.0,492.0 C458.2,481.2 453.7,471.2 450.0,460.0 C446.3,448.8 443.7,435.3 440.0,425.0 C436.3,414.7 431.7,405.2 428.0,398.0 C424.3,390.8 419.8,386.0 418.0,382.0 C416.2,378.0 414.3,374.2 417.0,374.0 C419.7,373.8 430.0,379.3 434.0,381.0 C438.0,382.7 436.7,380.8 441.0,384.0 C445.3,387.2 454.7,393.7 460.0,400.0 C465.3,406.3 469.2,412.0 473.0,422.0 C476.8,432.0 479.8,449.2 483.0,460.0 C486.2,470.8 488.7,477.0 492.0,487.0 C495.3,497.0 499.7,511.2 503.0,520.0 C506.3,528.8 508.7,533.3 512.0,540.0 C515.3,546.7 519.3,553.3 523.0,560.0 C526.7,566.7 530.2,573.3 534.0,580.0 C537.8,586.7 542.2,594.0 546.0,600.0 C549.8,606.0 554.2,612.0 557.0,616.0 C559.8,620.0 562.0,622.7 563.0,624.0Z" fill="#c45454" filter="url(#tube3d)"/>
<path d="M563,624 L557,637 L553,635 L559,622Z" fill="#b04848" opacity="0.6"/>
</g>
<path d="M430.49,362.19 A62.6,30.2 133.5 1 0 344.31,453.01 A62.6,30.2 133.5 1 0 430.49,362.19Z" fill="url(#holeSh)"/>
<circle cx="164.5" cy="639" r="110" fill="none" stroke="#ee8530" stroke-width="18"/>
<circle cx="122.3" cy="597.4" r="40" fill="#fa4c4a"/><circle cx="122.3" cy="597.4" r="26.3" fill="url(#goldH)" stroke="#c8901c" stroke-width="0.6"/>
<circle cx="206" cy="597.5" r="40" fill="#666666"/><circle cx="206" cy="597.5" r="26.3" fill="url(#goldV)" stroke="#c8901c" stroke-width="0.6"/>
<circle cx="122.3" cy="681" r="40" fill="#744d14"/><circle cx="122.3" cy="681" r="26.3" fill="url(#goldV)" stroke="#c8901c" stroke-width="0.6"/>
<circle cx="206.7" cy="681.8" r="40" fill="#fbd35a"/><circle cx="206.7" cy="681.8" r="26.3" fill="url(#goldH)" stroke="#c8901c" stroke-width="0.6"/>
<g fill="none" stroke="#141428" stroke-opacity="0.5" stroke-width="1.25">
<polyline points="238,225.5 472,163.4 757,163.4"/>
<polyline points="430.5,439 554,362.7 758.5,362.7"/>
<polyline points="576,626 624.7,546.5 759,546.5"/>
</g>
<circle cx="238" cy="225.5" r="4" fill="#1c1a48"/>
<circle cx="430.5" cy="439" r="4" fill="#1c1a48"/>
<circle cx="576" cy="626" r="4" fill="#1c1a48"/>
<g font-family="Liberation Sans" font-size="17.5" fill="#1e1e28" stroke="#1e1e28" stroke-width="0.25">
<text transform="translate(759.5,160.5) scale(0.993,1)" text-anchor="end">Полимерная композиция</text>
<text transform="translate(759.5,178) scale(0.998,1)" text-anchor="end">не содержащая галогенов</text>
<text transform="translate(759.5,339.2) scale(0.98,1)" text-anchor="end">Огнестойкая</text>
<text transform="translate(759.5,356.8) scale(0.99,1)" text-anchor="end">кремнеорганическая</text>
<text transform="translate(759.5,374.7) scale(0.975,1)" text-anchor="end">резина</text>
<text transform="translate(759.5,523.6) scale(0.985,1)" text-anchor="end">Медная</text>
<text transform="translate(759.5,542.3) scale(1.01,1)" text-anchor="end">токопроводящая</text>
<text transform="translate(759.5,560.3) scale(1.02,1)" text-anchor="end">жила</text>
</g>
</svg></body></html>
